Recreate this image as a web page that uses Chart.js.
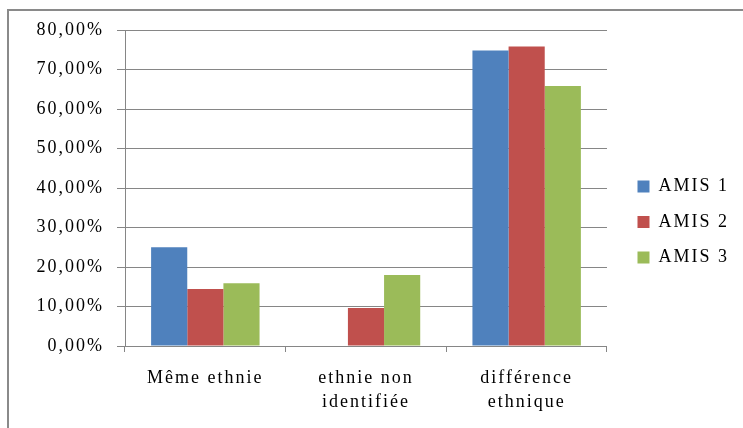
<!DOCTYPE html>
<html>
<head>
<meta charset="utf-8">
<script src="https://cdn.jsdelivr.net/npm/chart.js@4/dist/chart.umd.min.js"></script>
<style>
    html, body { margin: 0; padding: 0; background: #fff; }
    #cadre { position: relative; width: 743px; height: 428px; overflow: hidden; }
    #bordure { position: absolute; left: 7px; top: 9px; width: 800px; height: 500px;
               border-top: 2px solid #8a8a8a; border-left: 2px solid #8a8a8a; pointer-events: none; }
</style>
</head>
<body>
<div id="cadre">
    <canvas id="graphique" width="743" height="428"></canvas>
    <div id="bordure"></div>
</div>
<script>
const categories = ['Même ethnie', ['ethnie non', 'identifiée'], ['différence', 'ethnique']];
const series = ['AMIS 1', 'AMIS 2', 'AMIS 3'];
const amis1 = [25.0, 0, 74.8];
const amis2 = [14.4, 9.6, 75.8];
const amis3 = [15.9, 18.0, 65.8];
const etiquettesY = ['0,00%', '10,00%', '20,00%', '30,00%', '40,00%', '50,00%', '60,00%', '70,00%', '80,00%'];
const couleurs = ['#4F81BD', '#C0504D', '#9BBB59'];

// espacement des lettres, le canvas le perd à chaque redimensionnement
const espacement = {
    id: 'espacement',
    beforeLayout(chart) { chart.ctx.letterSpacing = '2px'; },
    afterLayout(chart) {
        // décale la légende vers la droite et un peu vers le haut
        chart.legend.left += 13;
        chart.legend.right += 13;
        chart.legend.top -= 7;
        chart.legend.bottom -= 7;
    },
    beforeDraw(chart) { chart.ctx.letterSpacing = '2px'; }
};

const police = { family: '"Liberation Serif", "Times New Roman", serif', size: 18, lineHeight: 1.33 };
const gris = '#868686';

new Chart(document.getElementById('graphique'), {
    type: 'bar',
    data: {
        labels: categories,
        datasets: [amis1, amis2, amis3].map((valeurs, i) => ({
            label: series[i],
            data: valeurs,
            backgroundColor: couleurs[i],
            borderWidth: 0,
            barPercentage: 1,
            categoryPercentage: 0.675
        }))
    },
    options: {
        responsive: false,
        animation: false,
        layout: { padding: { top: 30, right: 17, bottom: 0, left: 0 } },
        plugins: {
            legend: {
                position: 'right',
                labels: {
                    boxWidth: 12,
                    boxHeight: 12,
                    padding: 17.5,
                    color: '#000',
                    font: police
                }
            },
            tooltip: { enabled: false }
        },
        scales: {
            x: {
                afterFit: function (s) { s.height = 82; },
                grid: { drawOnChartArea: false, color: gris, tickLength: 6 },
                border: { color: gris },
                ticks: { color: '#000', font: police, padding: 14, maxRotation: 0 }
            },
            y: {
                min: 0,
                max: 80,
                afterFit: function (s) { s.width = 125; },
                grid: { color: gris, tickLength: 8 },
                border: { color: gris },
                ticks: {
                    stepSize: 10,
                    color: '#000',
                    font: police,
                    padding: 13,
                    callback: function (v, i) { return etiquettesY[i]; }
                }
            }
        }
    },
    plugins: [espacement]
});
</script>
</body>
</html>
